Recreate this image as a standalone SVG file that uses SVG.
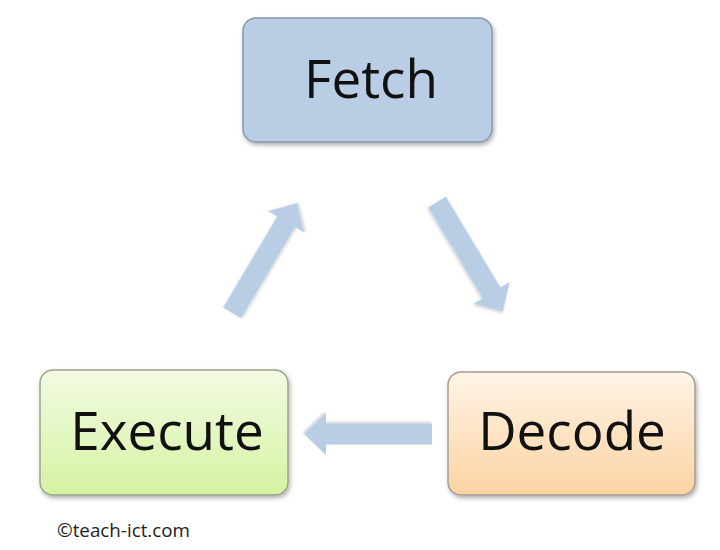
<svg xmlns="http://www.w3.org/2000/svg" width="720" height="550" viewBox="0 0 720 550">
  <style>
    .box { stroke-width: 1.5; filter: url(#shadow); }
    .label { font-family: "Open Sans", "Noto Sans", sans-serif; font-size: 53px; fill: #111; text-anchor: middle; }
    .arrow { fill: #b9cde5; filter: url(#ashadow); }
    .credit { font-family: "Open Sans", "Noto Sans", sans-serif; font-size: 18px; fill: #222; }
  </style>
  <defs>
    <linearGradient id="gExec" x1="0" y1="0" x2="0" y2="1">
      <stop offset="0" stop-color="#f3fbe3"/>
      <stop offset="1" stop-color="#d6f2a2"/>
    </linearGradient>
    <linearGradient id="gDec" x1="0" y1="0" x2="0" y2="1">
      <stop offset="0" stop-color="#fff4e6"/>
      <stop offset="1" stop-color="#fcd3a2"/>
    </linearGradient>
    <filter id="shadow" x="-10%" y="-10%" width="125%" height="130%">
      <feDropShadow dx="1.5" dy="2.5" stdDeviation="2" flood-color="#000" flood-opacity="0.3"/>
    </filter>
    <filter id="ashadow" x="-20%" y="-20%" width="140%" height="140%">
      <feDropShadow dx="1" dy="1.5" stdDeviation="1.2" flood-color="#000" flood-opacity="0.18"/>
    </filter>
    <path id="arr" d="M0,-10.5 H106 V-21 L128,0 L106,21 V10.5 H0 Z"/>
  </defs>
  <rect width="720" height="550" fill="#ffffff"/>

  <g id="connectors">
    <use href="#arr" class="arrow" transform="translate(232,313) rotate(-59.3)"/>
    <use href="#arr" class="arrow" transform="translate(437,202) rotate(59)"/>
    <use href="#arr" class="arrow" transform="translate(432,434) rotate(180)"/>
  </g>

  <g id="fetch">
    <rect class="box" x="243" y="18" width="249" height="124" rx="13" fill="#b9cde5" stroke="#8797ae"/>
    <text class="label" x="371" y="98">Fetch</text>
  </g>
  <g id="decode">
    <rect class="box" x="448" y="372" width="247" height="123" rx="13" fill="url(#gDec)" stroke="#a39d95"/>
    <text class="label" x="572" y="450">Decode</text>
  </g>
  <g id="execute">
    <rect class="box" x="40" y="370" width="248" height="125" rx="13" fill="url(#gExec)" stroke="#9aa38f"/>
    <text class="label" x="167" y="450">Execute</text>
  </g>

  <text class="credit" x="57" y="537" textLength="133" lengthAdjust="spacingAndGlyphs">©teach-ict.com</text>
</svg>
